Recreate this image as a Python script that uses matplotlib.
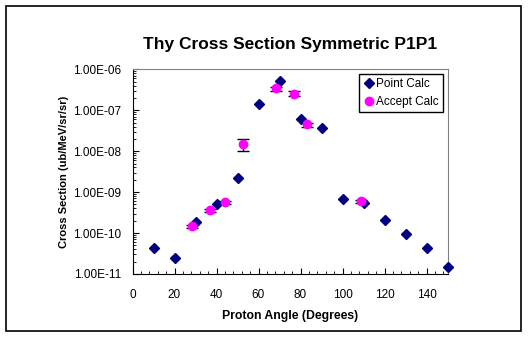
import numpy as np
from matplotlib import pyplot as plt
from matplotlib.patches import Rectangle
from matplotlib.ticker import FuncFormatter, MultipleLocator, LogLocator

plt.rcParams['font.family'] = ['Liberation Sans', 'DejaVu Sans']

# point calculation
point_angle = [10, 20, 30, 40, 50, 60, 70, 80, 90, 100, 110, 120, 130, 140, 150]
point_xs = [4.25e-11, 2.5e-11, 1.84e-10, 5.1e-10, 2.26e-9, 1.46e-7, 5.24e-7, 6.2e-8,
            3.78e-8, 6.8e-10, 5.35e-10, 2.13e-10, 9.3e-11, 4.25e-11, 1.48e-11]

# acceptance calculation with errors
accept_angle = [28.2, 37.1, 44.0, 52.5, 68.5, 76.7, 82.9, 108.7]
accept_xs = [1.47e-10, 3.6e-10, 5.66e-10, 1.48e-8, 3.4e-7, 2.56e-7, 4.57e-8, 5.98e-10]
accept_lo = [1.3e-10, 3.2e-10, 5.1e-10, 1.02e-8, 3.0e-7, 2.2e-7, 4.0e-8, 5.3e-10]
accept_hi = [1.6e-10, 3.9e-10, 6.1e-10, 1.96e-8, 3.7e-7, 2.9e-7, 5.0e-8, 6.6e-10]

W, H = 529, 338
fig = plt.figure(figsize=(W / 100, H / 100), dpi=100)
fig.patches.append(Rectangle((6 / W, 1 - 331 / H), 515 / W, 325 / H,
                             transform=fig.transFigure, fill=False,
                             edgecolor='black', linewidth=1.2))

ax = fig.add_axes([132.5 / W, 1 - 274 / H, 315 / W, 204.7 / H])

yerr = [np.array(accept_xs) - np.array(accept_lo),
        np.array(accept_hi) - np.array(accept_xs)]
ax.errorbar(accept_angle, accept_xs, yerr=yerr, fmt='none', ecolor='black',
            elinewidth=1, capsize=4, capthick=1, zorder=2)
ax.plot(point_angle, point_xs, linestyle='none', marker='D', markersize=5.5,
        color='#000080', label='Point Calc', zorder=3, clip_on=False)
ax.plot(accept_angle, accept_xs, linestyle='none', marker='o', markersize=6,
        color='#ff00ff', label='Accept Calc', zorder=4)

ax.set_yscale('log')
ax.set_ylim(1e-11, 1e-6)
ax.set_xlim(0, 150)
ax.xaxis.set_major_locator(MultipleLocator(20))
ax.xaxis.set_minor_locator(MultipleLocator(4))
ax.yaxis.set_major_locator(LogLocator(base=10))
ax.yaxis.set_minor_locator(LogLocator(base=10, subs=np.arange(2, 10)))
ax.yaxis.set_major_formatter(FuncFormatter(lambda v, p: f'{v:.2E}'))

ax.tick_params(which='both', direction='in', labelsize=8.5)
ax.tick_params(which='major', length=4)
ax.tick_params(which='minor', length=2.5)
ax.tick_params(axis='x', which='both', top=False, pad=11)
ax.tick_params(axis='y', which='both', right=False, pad=8)

for s in ['top', 'right']:
    ax.spines[s].set_color('#808080')
for s in ['left', 'bottom']:
    ax.spines[s].set_color('black')

ax.set_xlabel('Proton Angle (Degrees)', fontsize=8.8, fontweight='bold', labelpad=6)
ax.set_ylabel('Cross Section (ub/MeV/sr/sr)', fontsize=8, fontweight='bold', labelpad=3)
fig.text(290 / W, 1 - 45 / H, 'Thy Cross Section Symmetric P1P1', ha='center',
         va='center', fontsize=12.5, fontweight='bold')

leg = ax.legend(loc='upper left', bbox_to_anchor=(359 / W, 1 - 74 / H),
                bbox_transform=fig.transFigure, fontsize=8.5, fancybox=False,
                edgecolor='black', framealpha=1, handletextpad=0.1,
                borderpad=0.35, labelspacing=0.5, handlelength=1.0,
                borderaxespad=0)
leg.get_frame().set_linewidth(1)

fig.savefig('out.png', dpi=100)
